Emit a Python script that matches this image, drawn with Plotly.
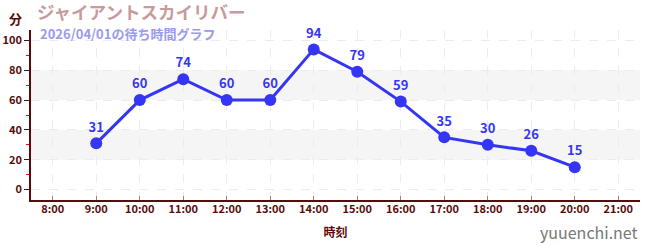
import plotly.graph_objects as go

hours = [9, 10, 11, 12, 13, 14, 15, 16, 17, 18, 19, 20]
waits = [31, 60, 74, 60, 60, 94, 79, 59, 35, 30, 26, 15]
tick_hours = list(range(8, 22))
tick_labels = [f"{h}:00" for h in tick_hours]
y_ticks = [0, 20, 40, 60, 80, 100]
bands = [(20, 40), (60, 80)]

title_text = "ジャイアントスカイリバー"
subtitle_text = "2026/04/01の待ち時間グラフ"
y_unit = "分"
x_title = "時刻"
watermark = "yuuenchi.net"

FONT = "Noto Sans CJK JP"
AXIS = "#5a0a0a"
BLUE = "#3535f5"

fig = go.Figure()
fig.add_trace(go.Scatter(
    x=hours, y=waits, mode="lines+markers+text",
    text=[str(v) for v in waits], textposition="top center",
    textfont=dict(family=FONT, size=13, color=BLUE, weight="bold"),
    line=dict(color=BLUE, width=3),
    marker=dict(color=BLUE, size=12),
    hoverinfo="skip", showlegend=False, cliponaxis=False,
))

for lo, hi in bands:
    fig.add_shape(type="rect", xref="paper", x0=0, x1=1, yref="y", y0=lo, y1=hi,
                  fillcolor="#f5f5f5", line=dict(width=0), layer="below")

fig.update_layout(
    width=650, height=250,
    margin=dict(l=31, r=10, t=30, b=50),
    paper_bgcolor="white", plot_bgcolor="white",
    font=dict(family=FONT, color=AXIS),
    xaxis=dict(
        range=[7.5, 21.5], tickvals=tick_hours, ticktext=tick_labels,
        showline=True, linecolor=AXIS, linewidth=1.5,
        ticks="inside", ticklen=4, tickcolor="#888888",
        tickfont=dict(family=FONT, size=11, color=AXIS, weight="bold"),
        ticklabelstandoff=-2,
        showgrid=True, gridcolor="#ececec", griddash="dash", gridwidth=1,
        zeroline=False, automargin=False,
        title=dict(text=x_title, font=dict(family=FONT, size=12, color=AXIS, weight="bold"), standoff=14),
    ),
    yaxis=dict(
        range=[-7, 107], tickvals=y_ticks,
        showline=True, linecolor=AXIS, linewidth=1.5,
        ticks="outside", ticklen=5, tickcolor="#222222",
        tickfont=dict(family=FONT, size=11, color=AXIS, weight="bold"),
        showgrid=True, gridcolor="#ececec", griddash="dash", gridwidth=1,
        zeroline=False, automargin=False,
        minor=dict(dtick=10, tick0=0, ticks="outside", ticklen=3, tickcolor="#ff0000", showgrid=False),
    ),
    annotations=[
        dict(text=y_unit, xref="paper", yref="paper", x=-0.04, y=1.07, xanchor="left", yanchor="middle",
             showarrow=False, font=dict(family=FONT, size=13, color=AXIS, weight="bold")),
        dict(text=title_text, xref="paper", yref="paper", xanchor="left", yanchor="middle",
             x=0.006, y=1.108, showarrow=False,
             font=dict(family=FONT, size=17.5, color="#c89a9a", weight="bold")),
        dict(text=subtitle_text, xref="paper", yref="paper", xanchor="left", yanchor="middle",
             x=0.012, y=0.98, showarrow=False,
             font=dict(family=FONT, size=13, color="#9a9af0", weight="bold")),
        dict(text=watermark, xref="paper", yref="paper", xanchor="right", yanchor="middle",
             x=1.0, y=-0.19, showarrow=False,
             font=dict(family=FONT, size=16, color="#777777")),
    ],
)

fig.write_html("out.html")
